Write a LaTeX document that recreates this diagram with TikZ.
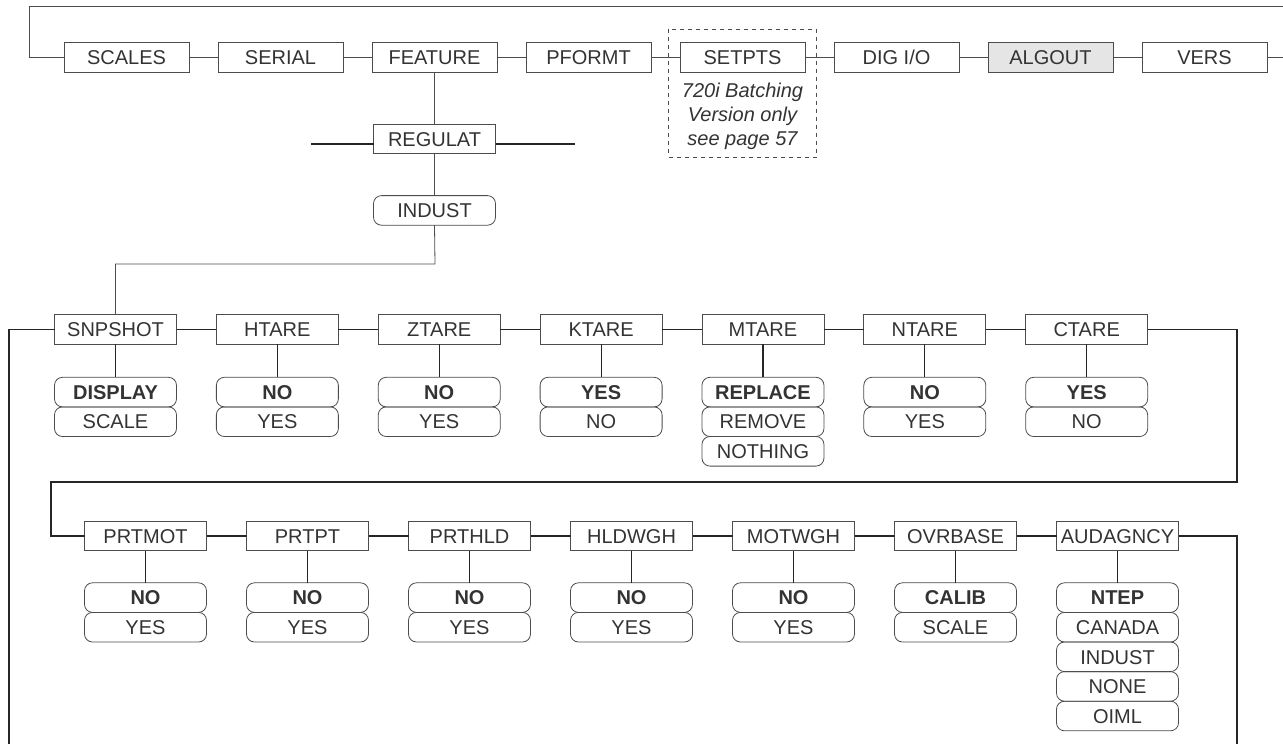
\documentclass[tikz,border=0pt]{standalone}
\usepackage{fontspec}
\setmainfont{Liberation Sans}
\usetikzlibrary{positioning,fit}
\definecolor{ink}{gray}{0.2}
\tikzstyle{menu}=[rectangle,draw=black!70,line width=0.6pt,outer sep=0pt,inner sep=1pt,text=ink,minimum width=91.5pt,minimum height=22.2pt,text height=10.8pt,text depth=0pt,font=\fontsize{15}{18}\selectfont]
\tikzstyle{top}=[menu,minimum width=93.75pt,minimum height=22.5pt]
\tikzstyle{opt}=[menu,rounded corners=6pt]
\tikzstyle{dflt}=[opt,font=\fontsize{15}{18}\selectfont\bfseries]
\tikzstyle{note}=[align=center,inner sep=0pt,text=ink,font=\fontsize{15}{18}\selectfont\itshape]
\tikzstyle{dashbox}=[draw=black!70,dashed,line width=0.6pt]
\tikzstyle{link}=[draw=black!70,line width=0.6pt]
\tikzstyle{wire}=[draw=black!85,line width=0.9pt]

\begin{document}
\begin{tikzpicture}[x=0.75pt,y=-0.75pt,node distance=21.75pt]
\useasboundingbox (0,0) rectangle (1283,744);
% top level menu
\node[top] (scales) at (126.5,57) {SCALES};
\node[top, right=of scales] (serial) {SERIAL};
\node[top, right=of serial] (feature) {FEATURE};
\node[top, right=of feature] (pformt) {PFORMT};
\node[top, right=of pformt] (setpts) {SETPTS};
\node[top, right=of setpts] (digio) {DIG I/O};
\node[top, right=of digio, fill=black!10] (algout) {ALGOUT};
\node[top, right=of algout] (vers) {VERS};
\node[note, below=8.25pt of setpts] (setnote) {720i Batching\\Version only\\see page 57};
\node[dashbox, fit=(setpts)(setnote), inner xsep=8.5pt, inner ysep=7.5pt, yshift=2.25pt] (setgrp) {};
\coordinate (loopnw) at (29,6);
\coordinate (loopne) at (1283,6);
\draw[link] (scales.west) -| (loopnw) -- (loopne);
\draw[link] (vers.east) -- (vers.east -| loopne);
\draw[link] (scales) -- (serial);
\draw[link] (serial) -- (feature);
\draw[link] (feature) -- (pformt);
\draw[link] (pformt) -- (setpts);
\draw[link] (setpts) -- (digio);
\draw[link] (digio) -- (algout);
\draw[link] (algout) -- (vers);

% feature / regulat
\node[menu, below=39pt of feature] (regulat) {REGULAT};
\node[opt, below=31.5pt of regulat] (indust) {INDUST};
\coordinate (regw) at (311,144);
\coordinate (rege) at (575,144);
\coordinate (drop) at (435,264);
\draw[link] (feature) -- (regulat);
\draw[link] (regulat) -- (indust);
\draw[wire] (regw) -- (regw -| regulat.west);
\draw[wire] (regulat.east |- rege) -- (rege);

% industrial parameters, first row
\node[menu] (snpshot) at (115.5,329.5) {SNPSHOT};
\node[menu, right=29.9pt of snpshot] (htare) {HTARE};
\node[menu, right=29.9pt of htare] (ztare) {ZTARE};
\node[menu, right=29.9pt of ztare] (ktare) {KTARE};
\node[menu, right=29.9pt of ktare] (mtare) {MTARE};
\node[menu, right=29.9pt of mtare] (ntare) {NTARE};
\node[menu, right=29.9pt of ntare] (ctare) {CTARE};
\node[dflt, below=24.75pt of snpshot] (snpA) {DISPLAY};
\node[opt, below=0pt of snpA] (snpB) {SCALE};
\node[dflt, below=24.75pt of htare] (htA) {NO};
\node[opt, below=0pt of htA] (htB) {YES};
\node[dflt, below=24.75pt of ztare] (ztA) {NO};
\node[opt, below=0pt of ztA] (ztB) {YES};
\node[dflt, below=24.75pt of ktare] (ktA) {YES};
\node[opt, below=0pt of ktA] (ktB) {NO};
\node[dflt, below=24.75pt of mtare] (mtA) {REPLACE};
\node[opt, below=0pt of mtA] (mtB) {REMOVE};
\node[opt, below=0pt of mtB] (mtC) {NOTHING};
\node[dflt, below=24.75pt of ntare] (ntA) {NO};
\node[opt, below=0pt of ntA] (ntB) {YES};
\node[dflt, below=24.75pt of ctare] (ctA) {YES};
\node[opt, below=0pt of ctA] (ctB) {NO};
\draw[link] (indust.south) -- (drop) -| (snpshot.north);
\draw[wire] (snpshot) -- (htare);
\draw[wire] (htare) -- (ztare);
\draw[wire] (ztare) -- (ktare);
\draw[wire] (ktare) -- (mtare);
\draw[wire] (mtare) -- (ntare);
\draw[wire] (ntare) -- (ctare);
\draw[wire] (snpshot) -- (snpA);
\draw[wire] (htare) -- (htA);
\draw[wire] (ztare) -- (ztA);
\draw[wire] (ktare) -- (ktA);
\draw[wire] (mtare) -- (mtA);
\draw[wire] (ntare) -- (ntA);
\draw[wire] (ctare) -- (ctA);

% industrial parameters, second row
\node[menu] (prtmot) at (145.5,536) {PRTMOT};
\node[menu, right=30pt of prtmot] (prtpt) {PRTPT};
\node[menu, right=30pt of prtpt] (prthld) {PRTHLD};
\node[menu, right=30pt of prthld] (hldwgh) {HLDWGH};
\node[menu, right=30pt of hldwgh] (motwgh) {MOTWGH};
\node[menu, right=30pt of motwgh] (ovrbase) {OVRBASE};
\node[menu, right=30pt of ovrbase] (audagncy) {AUDAGNCY};
\node[dflt, below=24pt of prtmot] (pmA) {NO};
\node[opt, below=0pt of pmA] (pmB) {YES};
\node[dflt, below=24pt of prtpt] (ppA) {NO};
\node[opt, below=0pt of ppA] (ppB) {YES};
\node[dflt, below=24pt of prthld] (phA) {NO};
\node[opt, below=0pt of phA] (phB) {YES};
\node[dflt, below=24pt of hldwgh] (hwA) {NO};
\node[opt, below=0pt of hwA] (hwB) {YES};
\node[dflt, below=24pt of motwgh] (mwA) {NO};
\node[opt, below=0pt of mwA] (mwB) {YES};
\node[dflt, below=24pt of ovrbase] (obA) {CALIB};
\node[opt, below=0pt of obA] (obB) {SCALE};
\node[dflt, below=24pt of audagncy] (auA) {NTEP};
\node[opt, below=0pt of auA] (auB) {CANADA};
\node[opt, below=0pt of auB] (auC) {INDUST};
\node[opt, below=0pt of auC] (auD) {NONE};
\node[opt, below=0pt of auD] (auE) {OIML};
\draw[wire] (prtmot) -- (prtpt);
\draw[wire] (prtpt) -- (prthld);
\draw[wire] (prthld) -- (hldwgh);
\draw[wire] (hldwgh) -- (motwgh);
\draw[wire] (motwgh) -- (ovrbase);
\draw[wire] (ovrbase) -- (audagncy);
\draw[wire] (prtmot) -- (pmA);
\draw[wire] (prtpt) -- (ppA);
\draw[wire] (prthld) -- (phA);
\draw[wire] (hldwgh) -- (hwA);
\draw[wire] (motwgh) -- (mwA);
\draw[wire] (ovrbase) -- (obA);
\draw[wire] (audagncy) -- (auA);

% loop between the rows
\coordinate (r2sw) at (9,744);
\coordinate (r2se) at (1237,482);
\coordinate (r3nw) at (51,482);
\coordinate (r3se) at (1237,744);
\draw[wire] (snpshot.west) -| (r2sw);
\draw[wire] (ctare.east) -| (r2se) -- (r3nw) |- (prtmot.west);
\draw[wire] (audagncy.east) -| (r3se);
\end{tikzpicture}
\end{document}
